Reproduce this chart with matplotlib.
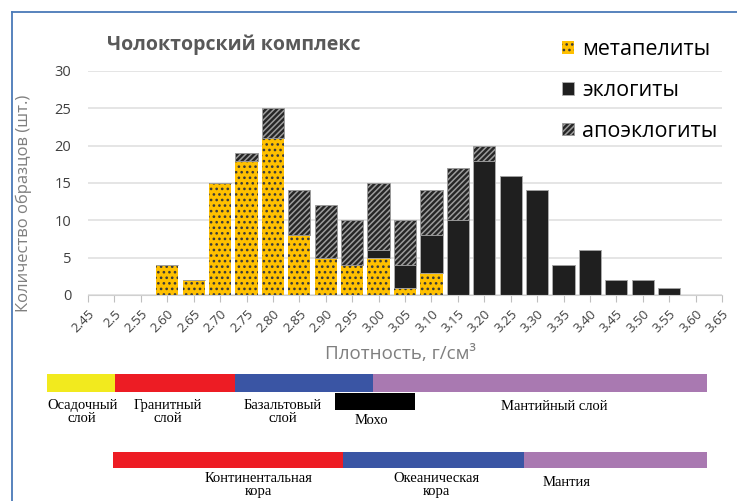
import matplotlib

matplotlib.use("Agg")

import matplotlib.pyplot as plt
import numpy as np
from matplotlib.lines import Line2D

DPI = 100
W_PX, H_PX = 737, 501
SANS = ["Open Sans", "DejaVu Sans"]
SERIF = ["Liberation Serif", "DejaVu Serif"]

# density classes (g/cm3), as written on the axis
density_labels = [
    "2.45", "2.5", "2.55", "2.60", "2.65", "2.70", "2.75", "2.80", "2.85",
    "2.90", "2.95", "3.00", "3.05", "3.10", "3.15", "3.20", "3.25", "3.30",
    "3.35", "3.40", "3.45", "3.50", "3.55", "3.60", "3.65",
]
metapelites = [0, 0, 0, 4, 2, 15, 18, 21, 8, 5, 4, 5, 1, 3, 0, 0, 0, 0, 0, 0, 0, 0, 0, 0, 0]
eclogites = [0, 0, 0, 0, 0, 0, 0, 0, 0, 0, 0, 1, 3, 5, 10, 18, 16, 14, 4, 6, 2, 2, 1, 0, 0]
apoeclogites = [0, 0, 0, 0, 0, 0, 1, 4, 6, 7, 6, 9, 6, 6, 7, 2, 0, 0, 0, 0, 0, 0, 0, 0, 0]
series_names = ["метапелиты", "эклогиты", "апоэклогиты"]

# earth layers below the chart, edges in density units
layer_names = ["Осадочный\nслой", "Гранитный\nслой", "Базальтовый\nслой", "Мантийный слой"]
layer_edges = [2.372, 2.501, 2.728, 2.990, 3.622]
layer_label_x = [2.439, 2.601, 2.819, 3.332]
moho_name = "Мохо"
moho_edges = [2.918, 3.069]
crust_names = ["Континентальная\nкора", "Океаническая\nкора", "Мантия"]
crust_edges = [2.497, 2.933, 3.275, 3.622]
crust_label_x = [2.772, 3.109, 3.355]

LAYER_COLORS = ["#F2EA1E", "#ED1C24", "#3A55A4", "#A979B1"]
CRUST_COLORS = ["#ED1C24", "#3A55A4", "#A979B1"]
FRAME = "#4A7AB8"


def px_x(px: float) -> float:
    return px / W_PX


def px_y(px: float) -> float:
    return 1 - px / H_PX


def draw_histogram(fig):
    left, right, top, bottom = 88, 722, 71, 295
    ax = fig.add_axes([px_x(left), px_y(bottom), (right - left) / W_PX, (bottom - top) / H_PX])
    pos = np.arange(len(density_labels))
    meta = np.array(metapelites)
    ecl = np.array(eclogites)
    apo = np.array(apoeclogites)

    b1 = ax.bar(pos, meta, width=0.84, color="#FFC000", edgecolor="#3a3a3a",
                hatch="...", linewidth=0, zorder=3, label=series_names[0])
    b2 = ax.bar(pos, ecl, bottom=meta, width=0.84, color="#1F1F1F", edgecolor="#b0b0b0",
                linewidth=0.6, zorder=3, label=series_names[1])
    b3 = ax.bar(pos, apo, bottom=meta + ecl, width=0.84, color="#262626", edgecolor="#9c9c9c",
                hatch="//////", linewidth=0.6, zorder=3, label=series_names[2])

    ax.set_xlim(0, len(density_labels) - 1)
    ax.set_ylim(0, 30)
    ax.set_yticks(range(0, 31, 5))
    ax.set_xticks(pos)
    ax.set_xticklabels(density_labels, rotation=45, ha="right", va="top",
                       rotation_mode="anchor", fontsize=9.5, color="#404040", family=SANS)
    for lab in ax.get_yticklabels():
        lab.set_family(SANS)
    ax.tick_params(axis="y", length=0, pad=12, labelsize=10.5, labelcolor="#404040")
    ax.tick_params(axis="x", length=5, color="#bfbfbf", pad=4)
    ax.grid(axis="y", color="#e0e0e0", linewidth=1.2, zorder=0)
    ax.set_axisbelow(True)
    for side in ("left", "top", "right"):
        ax.spines[side].set_visible(False)
    ax.spines["bottom"].set_color("#d0d0d0")
    ax.spines["bottom"].set_zorder(4)

    ax.set_ylabel("Количество образцов (шт.)", fontsize=12, color="#7f7f7f", family=SANS)
    ax.yaxis.set_label_coords((32 - left) / (right - left), (bottom - 203) / (bottom - top))
    ax.set_xlabel("Плотность, г/см³", fontsize=13.5, color="#7f7f7f", family=SANS)
    ax.xaxis.set_label_coords((400 - left) / (right - left), (bottom - 345) / (bottom - top))

    fig.legend(handles=[b1, b2, b3], labels=series_names, loc="upper left",
               bbox_to_anchor=(px_x(562), px_y(39)), frameon=False,
               prop={"family": SANS, "size": 15.5}, handlelength=0.55, handleheight=0.55,
               handletextpad=0.4, labelspacing=0.92, borderaxespad=0, borderpad=0)
    return ax


def draw_layers(fig):
    left, right = 88, 722
    ax = fig.add_axes([px_x(left), 0, (right - left) / W_PX, 141 / H_PX])
    ax.set_xlim(2.45, 3.65)
    ax.set_ylim(501, 360)
    ax.axis("off")

    edges = np.array(layer_edges)
    ax.barh(383, np.diff(edges), left=edges[:-1], height=18, color=LAYER_COLORS, clip_on=False)
    m = np.array(moho_edges)
    ax.barh(401.5, np.diff(m), left=m[:-1], height=17, color="black", clip_on=False)
    c = np.array(crust_edges)
    ax.barh(460, np.diff(c), left=c[:-1], height=16, color=CRUST_COLORS, clip_on=False)

    text_kw = dict(ha="center", va="center", fontsize=10.5, family=SERIF,
                   linespacing=1.0, clip_on=False)
    for name, x in zip(layer_names, layer_label_x):
        y = 406 if "\n" not in name else 412
        ax.text(x, y, name, **text_kw)
    ax.text(np.mean(moho_edges) - 0.008, 421, moho_name, **text_kw)
    for name, x in zip(crust_names, crust_label_x):
        y = 483 if "\n" not in name else 485
        ax.text(x, y, name, **text_kw)


def main() -> None:
    fig = plt.figure(figsize=(W_PX / DPI, H_PX / DPI), dpi=DPI)
    plt.rcParams["hatch.linewidth"] = 1.1

    draw_histogram(fig)
    draw_layers(fig)

    fig.text(px_x(107), px_y(45), "Чолокторский комплекс", fontsize=14, fontweight="bold",
             color="#595959", va="center", ha="left", family=SANS)

    # thin blue frame (top and left edges visible)
    fig.add_artist(Line2D([px_x(12), px_x(12)], [0, px_y(12)], transform=fig.transFigure,
                          color=FRAME, linewidth=1.3))
    fig.add_artist(Line2D([px_x(12), 1], [px_y(12), px_y(12)], transform=fig.transFigure,
                          color=FRAME, linewidth=1.3))

    fig.savefig("out.png", dpi=DPI)
    plt.close(fig)


if __name__ == "__main__":
    main()
